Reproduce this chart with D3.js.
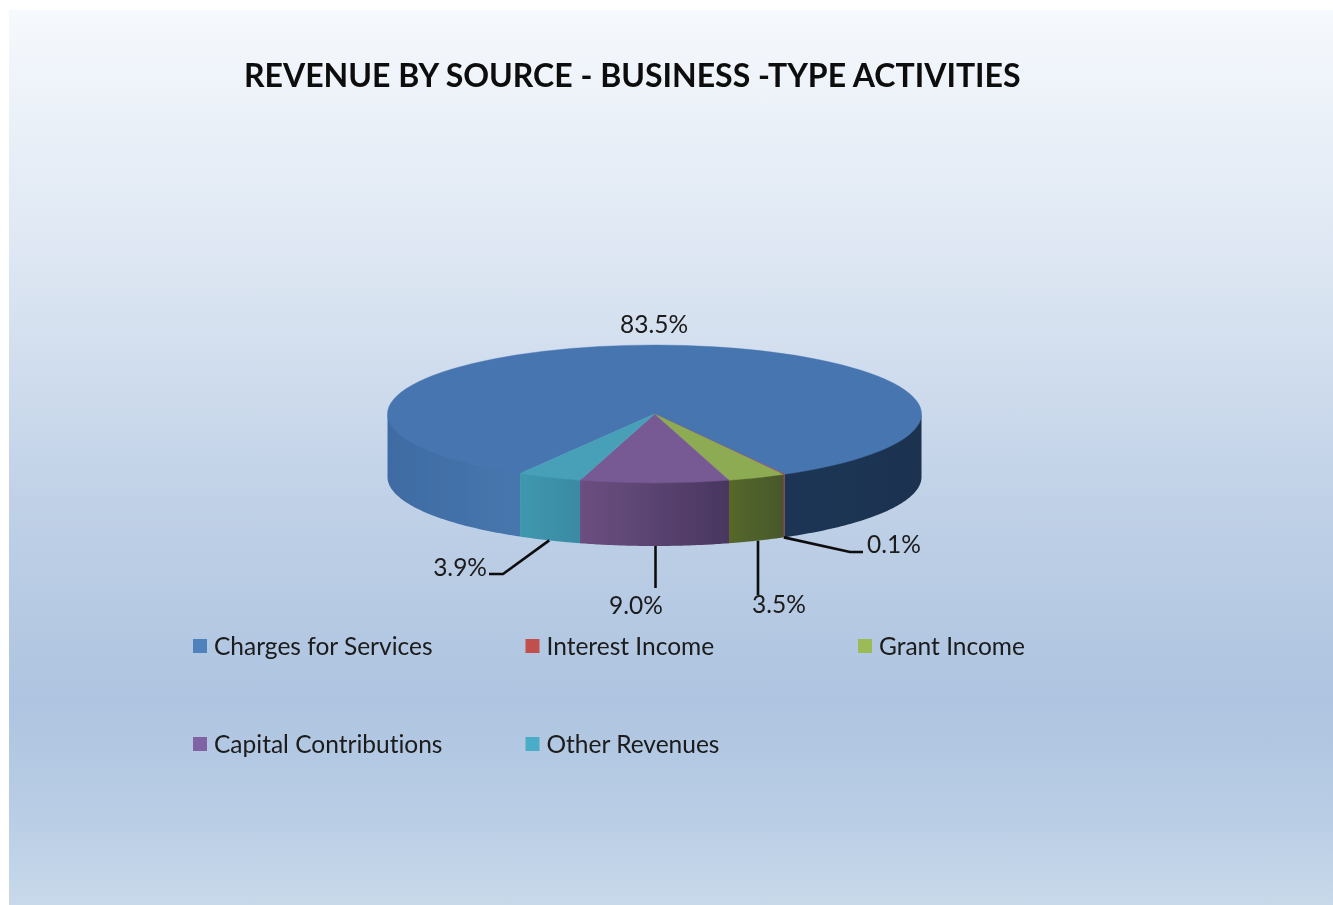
<!DOCTYPE html>
<html>
<head>
<meta charset="utf-8">
<script src="https://cdn.jsdelivr.net/npm/d3@7/dist/d3.min.js"></script>
<style>html,body{margin:0;padding:0;background:#fff}svg{display:block}text{font-variant-ligatures:none}</style>
</head>
<body>
<div id="chart"></div>
<script>
const titleText = "REVENUE BY SOURCE - BUSINESS -TYPE ACTIVITIES";
const categories = ["Charges for Services", "Interest Income", "Grant Income", "Capital Contributions", "Other Revenues"];
const shares = [83.5, 0.1, 3.5, 9.0, 3.9];
const legendColors = ["#4f81bd", "#c0504d", "#9bbb59", "#8064a2", "#4bacc6"];
const topColors = ["#4675b0", "#b0484a", "#8dab52", "#775a93", "#46a0b8"];
const wallLeftColors = ["#3f6ca6", "#7a3230", "#55682c", "#6b4f80", "#3e98ae"];
const wallRightColors = ["#1c3250", "#6a2a28", "#48582a", "#49365f", "#3a8aa4"];

const W = 1333, H = 905;
const cx = 654.5, cy = 414, rx = 267, ry = 69, depth = 63;
const svg = d3.select("#chart").append("svg").attr("width", W).attr("height", H);
const defs = svg.append("defs");
defs.append("filter").attr("id", "soft").attr("x", "-5%").attr("y", "-5%").attr("width", "110%").attr("height", "110%")
  .append("feGaussianBlur").attr("stdDeviation", 0.55);

// background
const bg = defs.append("linearGradient").attr("id", "bg").attr("x1", 0).attr("y1", 0).attr("x2", 0).attr("y2", 1);
[[0, "#f6f9fd"], [0.3, "#dbe5f2"], [0.55, "#c0d1e7"], [0.77, "#aec4e0"], [0.9, "#b9cde5"], [1, "#c8d9ea"]]
  .forEach(s => bg.append("stop").attr("offset", s[0]).attr("stop-color", s[1]));
svg.append("rect").attr("x", 9).attr("y", 10).attr("width", W - 9).attr("height", H - 10).attr("fill", "url(#bg)");

const root = svg.append("g").attr("filter", "url(#soft)");

// slice angles: the pie starts so that Capital Contributions is centred at the front
const total = d3.sum(shares);
const capitalMid = d3.sum(shares.slice(0, 3)) + shares[3] / 2;
const start = Math.PI - capitalMid / total * 2 * Math.PI;
const pie = d3.pie().sort(null).startAngle(start).endAngle(start + 2 * Math.PI);
const arcs = pie(shares);

const px = a => cx + rx * Math.sin(a);
const py = a => cy - ry * Math.cos(a);

// side walls (front half only)
const wallG = root.append("g");
const line = d3.line();
arcs.forEach((d, i) => {
  const parts = [];
  [[Math.PI / 2, 1.5 * Math.PI], [2.5 * Math.PI, 3.5 * Math.PI], [-1.5 * Math.PI, -0.5 * Math.PI]].forEach(r => {
    const a0 = Math.max(d.startAngle, r[0]), a1 = Math.min(d.endAngle, r[1]);
    if (a1 > a0) parts.push([a0, a1]);
  });
  parts.forEach((p, j) => {
    const x0 = Math.min(px(p[0]), px(p[1])), x1 = Math.max(px(p[0]), px(p[1]));
    const id = `wall${i}_${j}`;
    const g = defs.append("linearGradient").attr("id", id).attr("gradientUnits", "userSpaceOnUse")
      .attr("x1", x0).attr("x2", x1).attr("y1", 0).attr("y2", 0);
    let c0 = wallLeftColors[i], c1 = wallRightColors[i];
    if (i === 0) {
      if (x0 < cx) { c0 = "#3f6ba3"; c1 = "#4676ad"; } else { c0 = "#1f3655"; c1 = "#1c3250"; }
    }
    g.append("stop").attr("offset", 0).attr("stop-color", c0);
    g.append("stop").attr("offset", 1).attr("stop-color", c1);
    const n = 60;
    const as = d3.range(n + 1).map(k => p[0] + (p[1] - p[0]) * k / n);
    // the wall reaches slightly under the top face so no seam shows
    const pts = as.map(a => [px(a), py(a) - 2]).concat(as.slice().reverse().map(a => [px(a), py(a) + depth]));
    wallG.append("path").attr("d", line(pts) + "Z").attr("fill", `url(#${id})`);
  });
});

// top face
const arcGen = d3.arc().innerRadius(0).outerRadius(rx);
root.append("g").attr("transform", `translate(${cx},${cy}) scale(1,${ry / rx})`)
  .selectAll("path").data(arcs).join("path")
  .attr("d", arcGen)
  .attr("fill", (d, i) => topColors[i])
  .attr("stroke", (d, i) => topColors[i])
  .attr("stroke-width", 0.4)
  .attr("vector-effect", "non-scaling-stroke");

// data labels and leader lines
const mid = d => (d.startAngle + d.endAngle) / 2;
const labelLayout = [
  { x: 654, y: 333, anchor: "middle" },
  { x: 867, y: 553, anchor: "start", elbow: [850, 552], end: [863, 552] },
  { x: 752, y: 613, anchor: "start", elbow: null, end: [758, 595] },
  { x: 636, y: 614, anchor: "middle", elbow: null, end: [655.5, 588] },
  { x: 487, y: 576, anchor: "end", elbow: [503, 574], end: [489, 574] }
];
const leaders = root.append("g").attr("fill", "none").attr("stroke", "#0d0d0d").attr("stroke-width", 2.6);
arcs.forEach((d, i) => {
  const L = labelLayout[i];
  if (L.end) {
    const a = mid(d), sx = (i === 3 || i === 2) ? L.end[0] : px(a);
    const pts = [[sx, py(a) + depth]];
    if (L.elbow) pts.push(L.elbow);
    pts.push(L.end);
    leaders.append("path").attr("d", line(pts));
  }
  root.append("text").attr("x", L.x).attr("y", L.y).attr("text-anchor", L.anchor)
    .attr("font-family", "Lato").attr("font-size", 24.5).attr("fill", "#1a1a1a")
    .text(d3.format(".1f")(shares[i]) + "%");
});

// title
root.append("text").attr("x", 244).attr("y", 87)
  .attr("font-family", "Lato").attr("font-weight", 700).attr("font-size", 32).attr("fill", "#0a0a0a")
  .text(titleText);

// legend
const colX = d3.scaleLinear().domain([0, 2]).range([193, 858]);
const rowY = d3.scaleLinear().domain([0, 1]).range([639, 737]);
const legend = root.append("g").selectAll("g").data(categories).join("g")
  .attr("transform", (d, i) => `translate(${colX(i % 3)},${rowY(Math.floor(i / 3))})`);
legend.append("rect").attr("width", 14).attr("height", 14).attr("fill", (d, i) => legendColors[i]);
legend.append("text").attr("x", 21).attr("y", 16)
  .attr("font-family", "Lato").attr("font-size", 24.5).attr("fill", "#1a1a1a").text(d => d);
</script>
</body>
</html>
